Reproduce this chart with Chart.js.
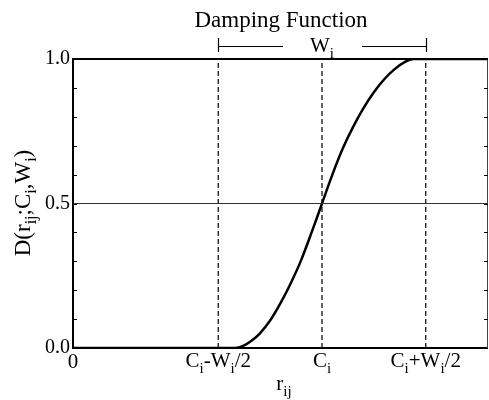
<!doctype html>
<html lang="en">
  <head>
    <meta charset="utf-8">
    <title>Damping Function</title>
    <style>
      * { margin: 0; padding: 0; }
      body { background: #fff; }
      .chartBox { width: 489px; height: 400px; }
    </style>
  </head>
  <body>
    <div class="chartBox">
      <canvas id="myChart"></canvas>
    </div>
    <script src="https://cdn.jsdelivr.net/npm/chart.js/dist/chart.umd.min.js"></script>
    <script>
    // data
    const xRange = [0, 10];
    const yRange = [0, 1];
    const yMajor = [0, 0.5, 1];
    const markers = [3.5, 6, 8.5];        // C-W/2, C, C+W/2
    const midLine = 0.5;
    const curveX = [0, 3.9, 4.1, 4.3, 4.5, 4.75, 5.0, 5.25, 5.5, 5.75, 6.0, 6.25, 6.5, 6.75, 7.0, 7.25, 7.5, 7.75, 8.0, 8.2, 10];
    const curveY = [0, 0, 0.007, 0.025, 0.05, 0.095, 0.155, 0.225, 0.305, 0.4, 0.5, 0.6, 0.69, 0.765, 0.83, 0.885, 0.93, 0.965, 0.99, 1.0, 1.0];

    const SERIF = "'Liberation Serif', 'DejaVu Serif', serif";

    // text with subscripts: parts = [[text, isSub], ...]
    function richWidth(ctx, parts, size) {
      let w = 0;
      parts.forEach(p => { ctx.font = (p[1] ? Math.round(size * 0.7) : size) + 'px ' + SERIF; w += ctx.measureText(p[0]).width; });
      return w;
    }
    function drawRichCentered(ctx, parts, x, y, size) {
      let cx = x - richWidth(ctx, parts, size) / 2;
      parts.forEach(p => {
        ctx.font = (p[1] ? Math.round(size * 0.7) : size) + 'px ' + SERIF;
        ctx.fillText(p[0], cx, p[1] ? y + size * 0.27 : y);
        cx += ctx.measureText(p[0]).width;
      });
    }

    const xLabels = [
      [['C', false], ['i', true], ['-W', false], ['i', true], ['/2', false]],
      [['C', false], ['i', true]],
      [['C', false], ['i', true], ['+W', false], ['i', true], ['/2', false]]
    ];

    const decorations = {
      id: 'decorations',
      afterDraw(chart) {
        const {ctx, chartArea: {top, bottom, left, right}} = chart;
        const x = chart.scales.x, y = chart.scales.y;
        ctx.save();
        ctx.fillStyle = '#000';
        ctx.strokeStyle = '#000';
        ctx.textBaseline = 'alphabetic';
        ctx.textAlign = 'left';

        // frame
        ctx.lineWidth = 2;
        ctx.beginPath();
        ctx.moveTo(right, top); ctx.lineTo(left, top);
        ctx.lineTo(left, bottom); ctx.lineTo(right, bottom);
        ctx.stroke();
        ctx.lineWidth = 1;
        ctx.strokeStyle = '#444';
        ctx.beginPath();
        ctx.moveTo(right - 0.5, top); ctx.lineTo(right - 0.5, bottom);
        ctx.stroke();

        // inward ticks on both y sides
        ctx.strokeStyle = '#000';
        y.ticks.forEach(t => {
          const py = Math.round(y.getPixelForValue(t.value)) + 0.5;
          ctx.beginPath();
          ctx.moveTo(left, py); ctx.lineTo(left + 4, py);
          ctx.moveTo(right, py); ctx.lineTo(right - 4, py);
          ctx.stroke();
        });

        // x tick labels
        ctx.font = '21px ' + SERIF;
        ctx.textAlign = 'center';
        ctx.fillText('0', x.getPixelForValue(xRange[0]), 368);
        ctx.textAlign = 'left';
        markers.forEach((m, i) => drawRichCentered(ctx, xLabels[i], x.getPixelForValue(m), 367, 21));

        // x title
        drawRichCentered(ctx, [['r', false], ['ij', true]], 284, 390, 21);

        // y title
        ctx.save();
        ctx.translate(30, 203);
        ctx.rotate(-Math.PI / 2);
        drawRichCentered(ctx, [['D(r', false], ['ij', true], [';C', false], ['i', true], [',W', false], ['i', true], [')', false]], 0, 0, 23);
        ctx.restore();

        // title and width bracket
        ctx.font = '23px ' + SERIF;
        ctx.textAlign = 'center';
        ctx.fillText('Damping Function', 281, 27);
        ctx.textAlign = 'left';
        const x1 = Math.round(x.getPixelForValue(markers[0])) + 0.5;
        const x2 = Math.round(x.getPixelForValue(markers[2])) + 0.5;
        const xc = x.getPixelForValue(markers[1]);
        ctx.lineWidth = 1.2;
        ctx.beginPath();
        ctx.moveTo(x1, 38); ctx.lineTo(x1, 52);
        ctx.moveTo(x2, 38); ctx.lineTo(x2, 52);
        ctx.moveTo(x1, 46.5); ctx.lineTo(283, 46.5);
        ctx.moveTo(362, 46.5); ctx.lineTo(x2, 46.5);
        ctx.stroke();
        drawRichCentered(ctx, [['W', false], ['i', true]], xc, 52, 21);
        ctx.restore();
      }
    };

    const dashed = markers.map(m => ({
      data: [{x: m, y: yRange[0]}, {x: m, y: yRange[1]}],
      borderColor: '#000',
      borderWidth: 1.2,
      borderDash: [5, 3],
      pointRadius: 0,
      showLine: true
    }));

    const data = {
      datasets: [
        {
          data: [{x: xRange[0], y: midLine}, {x: xRange[1], y: midLine}],
          borderColor: '#333',
          borderWidth: 1,
          pointRadius: 0,
          showLine: true
        },
        ...dashed,
        {
          data: curveX.map((v, i) => ({x: v, y: curveY[i]})),
          borderColor: '#000',
          borderWidth: 2.5,
          pointRadius: 0,
          showLine: true,
          tension: 0.3
        }
      ]
    };

    const config = {
      type: 'scatter',
      data,
      options: {
        responsive: true,
        maintainAspectRatio: false,
        animation: false,
        layout: { padding: { top: 59, right: 1, left: 0, bottom: 0 } },
        plugins: { legend: { display: false }, tooltip: { enabled: false } },
        scales: {
          x: {
            type: 'linear',
            min: xRange[0],
            max: xRange[1],
            grid: { display: false, drawTicks: false },
            border: { display: false },
            ticks: { display: false },
            afterFit(scale) { scale.height = 52; }
          },
          y: {
            min: yRange[0],
            max: yRange[1],
            grid: { display: false, drawTicks: false },
            border: { display: false },
            ticks: {
              stepSize: 0.1,
              autoSkip: false,
              padding: 3,
              color: '#000',
              font: { family: SERIF, size: 20 },
              callback: v => {
                const m = yMajor.find(k => Math.abs(k - v) < 1e-6);
                return m !== undefined ? m.toFixed(1) : '';
              }
            },
            afterFit(scale) { scale.width = 73; }
          }
        }
      },
      plugins: [decorations]
    };

    const myChart = new Chart(document.getElementById('myChart'), config);
    </script>
  </body>
</html>
